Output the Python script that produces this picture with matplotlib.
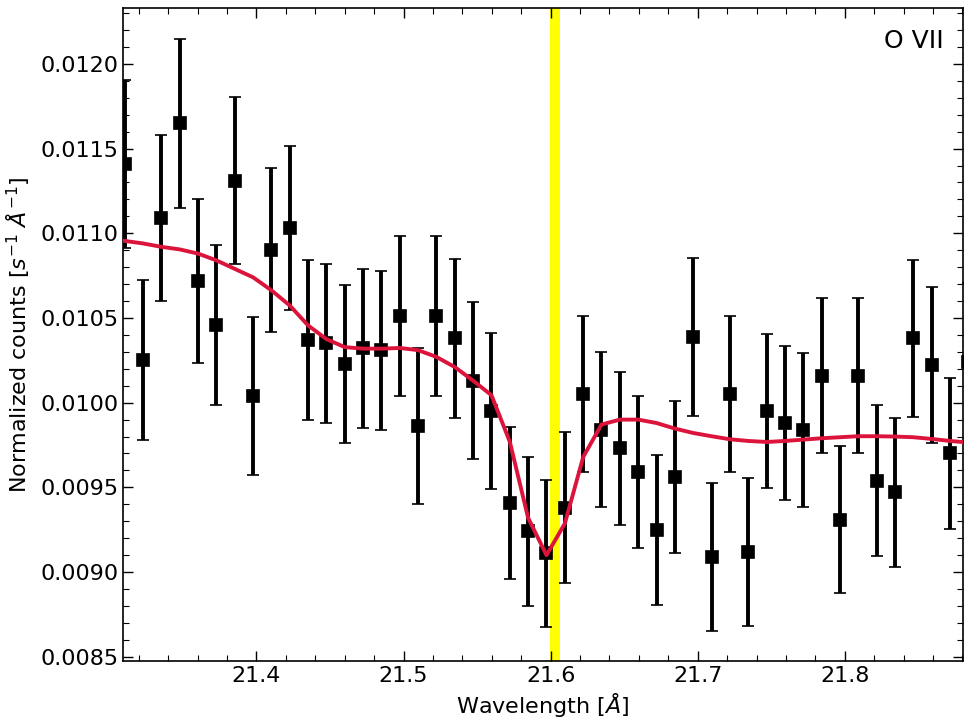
import matplotlib
matplotlib.use("Agg")
import matplotlib.pyplot as plt
from matplotlib.ticker import MultipleLocator, FormatStrFormatter

wavelength = [21.3104, 21.3229, 21.3353, 21.3478, 21.3603, 21.3728, 21.3852, 21.3977,
              21.4102, 21.4226, 21.4351, 21.4476, 21.4600, 21.4725, 21.4850, 21.4975,
              21.5099, 21.5224, 21.5349, 21.5473, 21.5598, 21.5723, 21.5847, 21.5972,
              21.6097, 21.6222, 21.6346, 21.6471, 21.6596, 21.6720, 21.6845, 21.6970,
              21.7094, 21.7219, 21.7344, 21.7469, 21.7593, 21.7718, 21.7843, 21.7967,
              21.8092, 21.8217, 21.8341, 21.8466, 21.8591, 21.8716, 21.8840]

counts = [0.01141, 0.01025, 0.01109, 0.01165, 0.01072, 0.01046, 0.01131, 0.01004,
          0.01090, 0.01103, 0.01037, 0.01035, 0.01023, 0.01032, 0.01031, 0.01051,
          0.00986, 0.01051, 0.01038, 0.01013, 0.00995, 0.00941, 0.00924, 0.00911,
          0.00938, 0.01005, 0.00984, 0.00973, 0.00959, 0.00925, 0.00956, 0.01039,
          0.00909, 0.01005, 0.00912, 0.00995, 0.00988, 0.00984, 0.01016, 0.00931,
          0.01016, 0.00954, 0.00947, 0.01038, 0.01022, 0.00970, 0.01024]

errors = [0.000495, 0.000472, 0.000490, 0.000498, 0.000484, 0.000472, 0.000492, 0.000466,
          0.000484, 0.000484, 0.000472, 0.000469, 0.000466, 0.000469, 0.000469, 0.000472,
          0.000460, 0.000472, 0.000469, 0.000463, 0.000460, 0.000448, 0.000442, 0.000436,
          0.000446, 0.000460, 0.000457, 0.000454, 0.000448, 0.000442, 0.000448, 0.000466,
          0.000436, 0.000460, 0.000436, 0.000454, 0.000454, 0.000454, 0.000460, 0.000436,
          0.000460, 0.000445, 0.000442, 0.000463, 0.000460, 0.000448, 0.000466]

model = [0.010955, 0.010940, 0.010920, 0.010905, 0.010880, 0.010840, 0.010790, 0.010740,
         0.010663, 0.010574, 0.010456, 0.010375, 0.010328, 0.010319, 0.010319, 0.010323,
         0.010310, 0.010270, 0.010210, 0.010130, 0.010044, 0.009768, 0.009320, 0.009100,
         0.009287, 0.009680, 0.009871, 0.009900, 0.009900, 0.009880, 0.009847, 0.009821,
         0.009802, 0.009784, 0.009774, 0.009768, 0.009774, 0.009782, 0.009790, 0.009796,
         0.009802, 0.009802, 0.009800, 0.009796, 0.009786, 0.009774, 0.009765]

line_band = (21.5993, 21.6061)
label = "O VII"

fig = plt.figure(figsize=(9.64, 7.19), dpi=100)
ax = fig.add_axes([123 / 964, 1 - 661 / 719, 840 / 964, 653 / 719])

ax.axvspan(line_band[0], line_band[1], color="#ffff00", zorder=1, lw=0)
ax.errorbar(wavelength, counts, yerr=errors, fmt="s", color="black", ms=8,
            mew=1.2, elinewidth=2.8, capsize=4.5, capthick=1.8, zorder=2)
ax.plot(wavelength, model, color="#dc143c", lw=2.8, zorder=3)

ax.set_xlim(21.30925, 21.8804)
ax.set_ylim(0.008475, 0.01233)

ax.xaxis.set_major_locator(MultipleLocator(0.1))
ax.xaxis.set_minor_locator(MultipleLocator(0.02))
ax.yaxis.set_major_locator(MultipleLocator(0.0005))
ax.yaxis.set_minor_locator(MultipleLocator(0.0001))
ax.yaxis.set_major_formatter(FormatStrFormatter("%.4f"))
ax.xaxis.set_major_formatter(FormatStrFormatter("%.1f"))

ax.tick_params(which="both", direction="in", top=True, right=True, labelsize=16)
ax.tick_params(which="major", length=7, width=1.0)
ax.tick_params(which="minor", length=4.5, width=0.8)
for s in ax.spines.values():
    s.set_linewidth(1.2)

ax.set_xlabel(r"Wavelength [$Å$]", fontsize=16, labelpad=4)
ax.set_ylabel(r"Normalized counts [$s^{-1}$ $Å^{-1}$]", fontsize=16, labelpad=6)

ax.text(0.977, 0.968, label, transform=ax.transAxes, ha="right", va="top", fontsize=18)

fig.savefig("out.png", dpi=100)
